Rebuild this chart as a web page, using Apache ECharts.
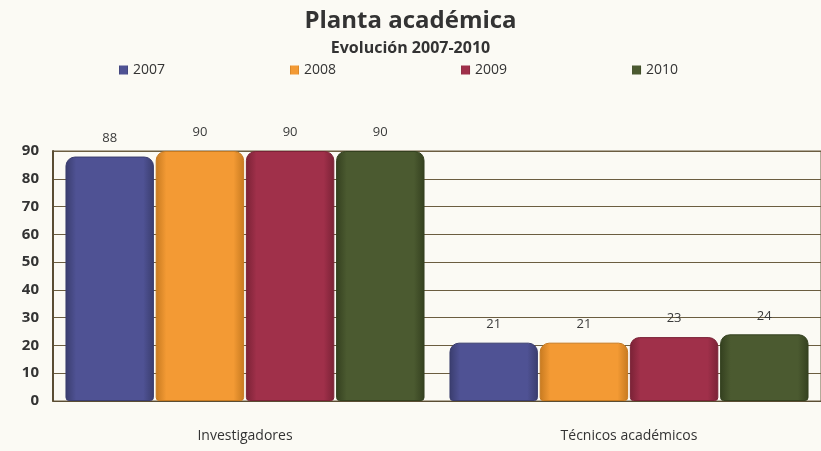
<!DOCTYPE html>
<html>
<head>
<meta charset="utf-8">
<script src="https://cdn.jsdelivr.net/npm/echarts@6/dist/echarts.min.js"></script>
<style>
  html, body { margin: 0; padding: 0; background: #fbfaf4; }
  #main { width: 821px; height: 451px; }
</style>
</head>
<body>
<div id="main"></div>
<script>
// categories and series
var categories = ['Investigadores', 'Técnicos académicos'];
var years = ['2007', '2008', '2009', '2010'];
var v2007 = [88, 21];
var v2008 = [90, 21];
var v2009 = [90, 23];
var v2010 = [90, 24];
var yTicks = [0, 10, 20, 30, 40, 50, 60, 70, 80, 90];

var colors = ['#4f5294', '#f39a34', '#a0304a', '#4b5a30'];
var borders = ['#3a3d6e', '#c77a20', '#7a2236', '#34401f'];
var values = [v2007, v2008, v2009, v2010];

var font = 'Open Sans';
var myChart = echarts.init(document.getElementById('main'));

var series = years.map(function (y, i) {
    return {
        name: y,
        type: 'bar',
        data: values[i],
        barGap: '2%',
        barCategoryGap: '6.5%',
        itemStyle: {
            color: new echarts.graphic.LinearGradient(0, 0, 1, 0, [
                {offset: 0, color: borders[i]},
                {offset: 0.12, color: colors[i]},
                {offset: 0.88, color: colors[i]},
                {offset: 1, color: borders[i]}
            ]),
            borderRadius: [9, 9, 3, 3],
            borderColor: borders[i],
            borderWidth: 1
        },
        label: {
            show: true,
            position: 'top',
            distance: 12,
            color: '#3a3a3a',
            fontFamily: font,
            fontSize: 13
        }
    };
});

myChart.setOption({
    backgroundColor: '#fbfaf4',
    title: {
        left: 'center',
        top: 4,
        text: 'Planta académica',
        subtext: 'Evolución 2007-2010',
        itemGap: 7,
        textStyle: {
            color: '#333333',
            fontFamily: font,
            fontWeight: 'bold',
            fontSize: 24
        },
        subtextStyle: {
            color: '#333333',
            fontFamily: font,
            fontWeight: 'bold',
            fontSize: 16
        }
    },
    legend: {
        top: 58,
        left: 114,
        itemGap: 125,
        itemWidth: 9,
        itemHeight: 9,
        icon: 'rect',
        itemStyle: {borderWidth: 0},
        textStyle: {
            color: '#333333',
            fontFamily: font,
            fontSize: 14
        },
        data: years
    },
    color: borders,
    grid: {
        left: 53,
        right: 0,
        top: 151,
        bottom: 50,
        show: true,
        borderColor: '#6b5d40',
        borderWidth: 1
    },
    xAxis: {
        type: 'category',
        data: categories,
        axisLine: {lineStyle: {color: '#5a4d33', width: 1}},
        axisTick: {show: false},
        axisLabel: {
            color: '#333333',
            fontFamily: font,
            fontSize: 14,
            margin: 28
        }
    },
    yAxis: {
        type: 'value',
        min: 0,
        max: 90,
        interval: 10,
        axisLine: {show: true, lineStyle: {color: '#5a4d33', width: 2}},
        axisTick: {show: false},
        splitLine: {lineStyle: {color: '#6b5d40', width: 1}},
        axisLabel: {
            color: '#333333',
            fontFamily: font,
            fontWeight: 'bold',
            fontSize: 15,
            margin: 14,
            formatter: function (v) { return yTicks.indexOf(v) >= 0 ? v : ''; }
        }
    },
    series: series
});
</script>
</body>
</html>
